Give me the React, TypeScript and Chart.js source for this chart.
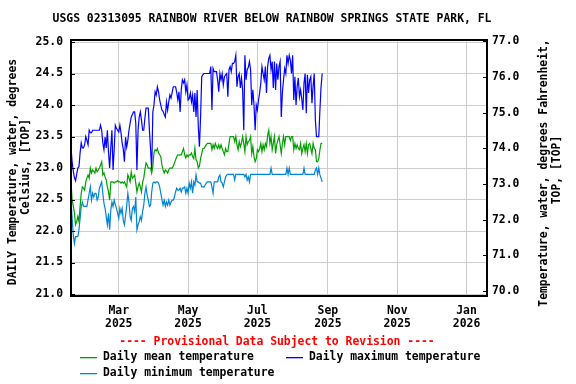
import React, { useEffect, useRef } from "react";
import { Chart, registerables } from "chart.js";

Chart.register(...registerables);

const TITLE = "USGS 02313095 RAINBOW RIVER BELOW RAINBOW SPRINGS STATE PARK, FL";
const LEFT_TITLE = ["DAILY Temperature, water, degrees", "Celsius, [TOP]"];
const RIGHT_TITLE = ["Temperature, water, degrees Fahrenheit,", "TOP, [TOP]"];
const PROVISIONAL = "---- Provisional Data Subject to Revision ----";

const START_DATE = "2025-01-18";
const END_DATE = "2026-01-19";
const TICK_DATES = ["2025-03-01", "2025-05-01", "2025-07-01", "2025-09-01", "2025-11-01", "2026-01-01"];
const TICK_MONTHS = ["Mar", "May", "Jul", "Sep", "Nov", "Jan"];
const TICK_YEARS = ["2025", "2025", "2025", "2025", "2025", "2026"];

const LEFT_TICKS = [21.0, 21.5, 22.0, 22.5, 23.0, 23.5, 24.0, 24.5, 25.0];
const RIGHT_TICKS = [70, 71, 72, 73, 74, 75, 76, 77];

const LEGEND_LABELS = ["Daily mean temperature", "Daily maximum temperature", "Daily minimum temperature"];

// Daily values (deg C), one per day starting 2025-01-18
const dailyMax = [
  23.32, 23.10, 22.95, 22.85, 22.80, 22.90, 23.00, 23.02, 23.24, 23.40,
  23.32, 23.32, 23.37, 23.50, 23.44, 23.37, 23.60, 23.56, 23.56, 23.60,
  23.60, 23.60, 23.60, 23.60, 23.60, 23.60, 23.68, 23.60, 23.40, 23.29,
  23.49, 23.32, 23.60, 23.25, 23.00, 23.32, 23.60, 22.97, 23.30, 23.68,
  23.63, 23.60, 23.57, 23.68, 23.56, 23.40, 23.30, 23.10, 23.49, 23.33,
  23.44, 23.60, 23.71, 23.81, 23.85, 23.89, 23.89, 23.71, 22.97, 23.60,
  23.81, 23.89, 23.76, 23.60, 23.60, 23.79, 23.95, 23.95, 23.95, 23.60,
  23.30, 22.97, 23.89, 24.00, 24.21, 24.16, 24.29, 24.21, 24.08, 24.00,
  23.92, 23.90, 23.85, 23.81, 24.05, 23.92, 24.05, 24.16, 24.11, 24.20,
  24.29, 24.29, 24.29, 24.20, 24.08, 24.21, 23.89, 24.24, 24.40, 24.35,
  24.40, 24.21, 24.32, 24.08, 24.10, 24.19, 24.05, 24.16, 23.89, 24.19,
  23.81, 24.24, 23.66, 23.34, 23.81, 24.45, 24.48, 24.50, 24.50, 24.50,
  24.50, 24.50, 24.50, 24.61, 23.92, 24.58, 24.53, 24.53, 24.53, 24.40,
  24.21, 24.50, 24.40, 24.50, 24.32, 24.45, 24.48, 24.50, 24.13, 24.56,
  24.61, 24.53, 24.66, 24.66, 24.69, 24.79, 24.29, 24.45, 24.50, 24.27,
  24.43, 24.24, 23.60, 24.79, 24.40, 24.56, 24.60, 24.69, 24.56, 24.00,
  24.24, 24.00, 23.60, 24.00, 23.92, 24.08, 24.20, 24.35, 24.61, 24.50,
  24.40, 24.61, 24.19, 24.61, 24.74, 24.79, 24.56, 24.69, 24.27, 24.69,
  24.24, 24.66, 24.40, 24.61, 24.69, 23.81, 24.20, 24.40, 24.58, 24.50,
  24.79, 24.66, 24.79, 24.71, 24.50, 24.79, 24.08, 24.45, 24.00, 24.30,
  24.43, 24.13, 24.24, 24.10, 23.92, 24.35, 24.50, 23.87, 24.48, 24.19,
  24.40, 24.45, 24.03, 24.30, 24.50, 23.76, 23.50, 23.50, 23.50, 23.92,
  24.29, 24.50,
];

const dailyMean = [
  22.78, 22.49, 22.40, 22.29, 22.10, 22.15, 22.23, 22.15, 22.39, 22.60,
  22.70, 22.68, 22.65, 22.78, 22.84, 22.89, 22.84, 23.00, 22.92, 22.97,
  22.95, 22.92, 23.00, 22.94, 22.97, 23.00, 23.05, 23.10, 22.89, 22.92,
  22.86, 22.81, 22.70, 22.62, 22.49, 22.78, 22.78, 22.78, 22.76, 22.78,
  22.78, 22.80, 22.78, 22.78, 22.76, 22.78, 22.76, 22.78, 22.74, 22.70,
  22.89, 22.84, 22.78, 22.94, 22.84, 22.86, 22.89, 22.76, 22.62, 22.70,
  22.76, 22.70, 22.62, 22.78, 22.84, 22.97, 23.08, 23.05, 23.00, 23.00,
  23.00, 22.92, 23.03, 23.24, 23.29, 23.27, 23.31, 23.24, 23.21, 23.18,
  23.05, 22.97, 22.92, 22.97, 22.95, 22.92, 22.97, 23.00, 23.00, 23.00,
  23.03, 23.08, 23.13, 23.18, 23.21, 23.21, 23.21, 23.21, 23.26, 23.31,
  23.21, 23.16, 23.21, 23.18, 23.21, 23.21, 23.24, 23.18, 23.15, 23.31,
  23.13, 23.10, 23.00, 23.03, 23.15, 23.23, 23.31, 23.31, 23.34, 23.37,
  23.39, 23.39, 23.39, 23.39, 23.29, 23.37, 23.31, 23.39, 23.34, 23.31,
  23.37, 23.31, 23.37, 23.31, 23.26, 23.21, 23.31, 23.26, 23.26, 23.39,
  23.50, 23.50, 23.50, 23.50, 23.42, 23.50, 23.37, 23.29, 23.42, 23.34,
  23.40, 23.50, 23.39, 23.26, 23.50, 23.37, 23.42, 23.44, 23.50, 23.23,
  23.34, 23.18, 23.10, 23.15, 23.29, 23.26, 23.31, 23.39, 23.26, 23.37,
  23.29, 23.39, 23.34, 23.52, 23.60, 23.39, 23.50, 23.29, 23.39, 23.50,
  23.23, 23.37, 23.44, 23.50, 23.37, 23.23, 23.39, 23.50, 23.37, 23.50,
  23.50, 23.50, 23.50, 23.44, 23.50, 23.50, 23.29, 23.39, 23.31, 23.37,
  23.31, 23.29, 23.39, 23.23, 23.31, 23.37, 23.26, 23.39, 23.23, 23.37,
  23.39, 23.31, 23.23, 23.39, 23.31, 23.29, 23.10, 23.10, 23.15, 23.29,
  23.39, 23.39,
];

const dailyMin = [
  22.49, 22.20, 21.94, 21.80, 21.91, 21.91, 21.91, 22.02, 22.20, 22.39,
  22.46, 22.39, 22.39, 22.39, 22.39, 22.50, 22.60, 22.70, 22.49, 22.60,
  22.54, 22.60, 22.60, 22.49, 22.54, 22.68, 22.73, 22.78, 22.60, 22.44,
  22.36, 22.23, 22.10, 22.28, 22.02, 22.33, 22.46, 22.39, 22.49, 22.42,
  22.36, 22.28, 22.20, 22.36, 22.28, 22.36, 22.17, 22.10, 22.25, 22.40,
  22.60, 22.46, 22.23, 22.17, 22.36, 22.39, 22.31, 22.54, 22.02, 22.10,
  22.15, 22.23, 22.17, 22.31, 22.41, 22.60, 22.70, 22.57, 22.49, 22.39,
  22.41, 22.62, 22.76, 22.78, 22.76, 22.78, 22.78, 22.76, 22.70, 22.60,
  22.50, 22.41, 22.49, 22.39, 22.46, 22.41, 22.49, 22.41, 22.46, 22.49,
  22.49, 22.54, 22.62, 22.68, 22.65, 22.65, 22.68, 22.62, 22.68, 22.68,
  22.70, 22.60, 22.68, 22.60, 22.76, 22.68, 22.78, 22.60, 22.78, 22.73,
  22.89, 22.78, 22.78, 22.76, 22.76, 22.70, 22.70, 22.70, 22.73, 22.76,
  22.78, 22.78, 22.78, 22.78, 22.70, 22.60, 22.78, 22.78, 22.78, 22.78,
  22.86, 22.89, 22.78, 22.76, 22.70, 22.78, 22.86, 22.89, 22.90, 22.90,
  22.90, 22.90, 22.90, 22.90, 22.81, 22.90, 22.90, 22.90, 22.90, 22.90,
  22.90, 22.90, 22.90, 22.86, 22.90, 22.81, 22.86, 22.78, 22.90, 22.90,
  22.90, 22.90, 22.90, 22.90, 22.90, 22.90, 22.90, 22.90, 22.90, 22.90,
  22.90, 22.90, 22.90, 22.90, 22.90, 22.90, 23.00, 22.90, 22.90, 22.90,
  22.90, 22.90, 22.90, 22.90, 22.90, 22.90, 22.90, 22.90, 22.90, 22.90,
  23.00, 22.90, 23.00, 22.90, 22.90, 22.90, 22.90, 22.90, 22.90, 22.90,
  22.90, 22.90, 22.90, 22.90, 22.90, 23.00, 22.90, 22.90, 22.90, 22.90,
  22.90, 22.90, 22.90, 22.90, 22.90, 22.97, 23.00, 22.90, 23.00, 22.89,
  22.84, 22.78,
];

const COLOR_MEAN = "#009f00";
const COLOR_MAX = "#0000ff";
const COLOR_MIN = "#0084d4";

const FONT_FAMILY = '"DejaVu Sans Mono", "Liberation Mono", monospace';
const FONT_SIZE = 11.4;

const DAY_MS = 86400000;
const dayOf = (iso: string) =>
  Math.round((Date.parse(iso + "T00:00:00Z") - Date.parse(START_DATE + "T00:00:00Z")) / DAY_MS);

const toPoints = (arr: number[]) => arr.map((v, i) => ({ x: i, y: v }));

const decorPlugin = {
  id: "decor",
  afterDraw(chart: any) {
    const ctx = chart.ctx as CanvasRenderingContext2D;
    const { left, right, top, bottom } = chart.chartArea;
    ctx.save();
    // plot frame
    ctx.strokeStyle = "#000";
    ctx.lineWidth = 2;
    ctx.strokeRect(left, top, right - left, bottom - top);
    // right axis inner ticks
    const y2 = chart.scales.y2;
    ctx.lineWidth = 1;
    y2.ticks.forEach((t: any) => {
      const py = Math.round(y2.getPixelForValue(t.value)) + 0.5;
      ctx.beginPath();
      ctx.moveTo(right - 4, py);
      ctx.lineTo(right, py);
      ctx.stroke();
    });
    // left axis inner ticks
    const y = chart.scales.y;
    y.ticks.forEach((t: any) => {
      const py = Math.round(y.getPixelForValue(t.value)) + 0.5;
      ctx.beginPath();
      ctx.moveTo(left, py);
      ctx.lineTo(left + 4, py);
      ctx.stroke();
    });

    ctx.font = `bold ${FONT_SIZE}px ${FONT_FAMILY}`;
    ctx.fillStyle = "#000";
    ctx.textAlign = "center";
    ctx.textBaseline = "middle";
    // title
    ctx.fillText(TITLE, 272, 19);

    const drawRot = (text: string, x: number, yy: number) => {
      ctx.save();
      ctx.translate(x, yy);
      ctx.rotate(-Math.PI / 2);
      ctx.fillText(text, 0, 0);
      ctx.restore();
    };
    drawRot(LEFT_TITLE[0], 13, 172);
    drawRot(LEFT_TITLE[1], 26, 167);
    drawRot(RIGHT_TITLE[0], 544, 173);
    drawRot(RIGHT_TITLE[1], 557, 170);

    // provisional note
    ctx.fillStyle = "#ff0000";
    ctx.fillText(PROVISIONAL, 277, 342);

    // legend
    ctx.textAlign = "left";
    const entries = [
      { label: LEGEND_LABELS[0], color: COLOR_MEAN, x: 80, y: 357 },
      { label: LEGEND_LABELS[1], color: COLOR_MAX, x: 286, y: 357 },
      { label: LEGEND_LABELS[2], color: COLOR_MIN, x: 80, y: 373 },
    ];
    entries.forEach((e) => {
      ctx.fillStyle = e.color;
      ctx.fillRect(e.x, e.y, 17, 1.3);
      ctx.fillStyle = "#000";
      ctx.fillText(e.label, e.x + 23, e.y);
    });
    ctx.restore();
  },
};

export default function App() {
  const ref = useRef<HTMLCanvasElement | null>(null);

  useEffect(() => {
    if (!ref.current) return;
    const tickDays = TICK_DATES.map(dayOf);
    const tickFont = { family: FONT_FAMILY, size: FONT_SIZE, weight: "bold" as const, lineHeight: 1.2 };
    const chart = new Chart(ref.current, {
      type: "line",
      data: {
        datasets: [
          { label: LEGEND_LABELS[0], data: toPoints(dailyMean), borderColor: COLOR_MEAN, borderWidth: 1.2, pointRadius: 0, fill: false, yAxisID: "y" },
          { label: LEGEND_LABELS[1], data: toPoints(dailyMax), borderColor: COLOR_MAX, borderWidth: 1.2, pointRadius: 0, fill: false, yAxisID: "y" },
          { label: LEGEND_LABELS[2], data: toPoints(dailyMin), borderColor: COLOR_MIN, borderWidth: 1.2, pointRadius: 0, fill: false, yAxisID: "y" },
        ],
      },
      options: {
        animation: false,
        responsive: false,
        devicePixelRatio: 1,
        layout: { padding: { top: 40, left: 0, right: 0, bottom: 0 } },
        plugins: { legend: { display: false }, title: { display: false }, tooltip: { enabled: false } },
        scales: {
          x: {
            type: "linear",
            min: 0,
            max: dayOf(END_DATE),
            afterBuildTicks: (s: any) => {
              s.ticks = tickDays.map((v) => ({ value: v }));
            },
            afterFit: (s: any) => {
              s.height = 88;
            },
            ticks: {
              autoSkip: false,
              maxRotation: 0,
              padding: 8,
              color: "#000",
              font: tickFont,
              callback: (v: any) => {
                const i = tickDays.indexOf(Number(v));
                return i >= 0 ? [TICK_MONTHS[i], TICK_YEARS[i]] : "";
              },
            },
            grid: { color: "#cccccc", lineWidth: 1, drawTicks: false },
            border: { display: false },
          },
          y: {
            type: "linear",
            position: "left",
            min: 20.969,
            max: 25.032,
            afterBuildTicks: (s: any) => {
              s.ticks = LEFT_TICKS.map((v) => ({ value: v }));
            },
            afterFit: (s: any) => {
              s.width = 71;
            },
            ticks: { padding: 8, color: "#000", font: tickFont, callback: (v: any) => Number(v).toFixed(1) },
            grid: { color: "#cccccc", lineWidth: 1, drawTicks: false },
            border: { display: false },
          },
          y2: {
            type: "linear",
            position: "right",
            min: 69.86,
            max: 77.04,
            afterBuildTicks: (s: any) => {
              s.ticks = RIGHT_TICKS.map((v) => ({ value: v }));
            },
            afterFit: (s: any) => {
              s.width = 89;
            },
            ticks: { padding: 5, color: "#000", font: tickFont, callback: (v: any) => Number(v).toFixed(1) },
            grid: { display: false, drawOnChartArea: false, drawTicks: false },
            border: { display: false },
          },
        },
      },
      plugins: [decorPlugin],
    } as any);
    return () => chart.destroy();
  }, []);

  return (
    <div style={{ position: "absolute", left: 0, top: 0, width: 576, height: 384, background: "#fff" }}>
      <canvas ref={ref} width={576} height={384} style={{ display: "block" }} />
    </div>
  );
}
